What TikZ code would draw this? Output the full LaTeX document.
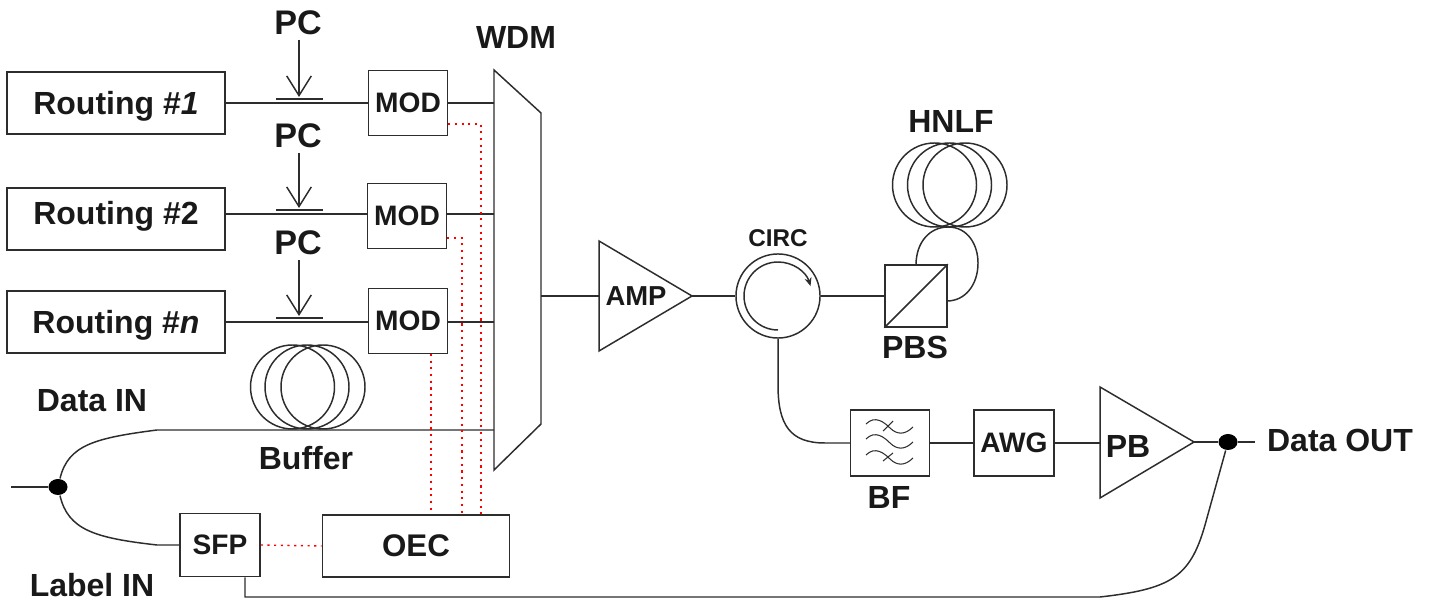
\documentclass[tikz,border=0pt]{standalone}
\usepackage{fontspec}
\setmainfont{Liberation Sans}
\usetikzlibrary{arrows.meta,shapes.geometric}
\definecolor{linegray}{RGB}{45,45,45}
\definecolor{textdark}{RGB}{25,25,25}
\tikzset{
  base/.style={draw=linegray,line width=0.42pt},
  box/.style={base,rectangle,inner sep=0pt,text=textdark,font=\fontsize{8}{9}\selectfont\bfseries},
  tag/.style={inner sep=0pt,text=textdark,font=\fontsize{9.1}{10}\selectfont\bfseries},
  tagbig/.style={inner sep=0pt,text=textdark,font=\fontsize{9.7}{11}\selectfont\bfseries},
  tagmid/.style={inner sep=0pt,text=textdark,font=\fontsize{7.8}{9}\selectfont\bfseries},
  tagsmall/.style={inner sep=0pt,text=textdark,font=\fontsize{6.9}{8}\selectfont\bfseries},
  ctrl/.style={draw=red,line width=0.4pt,dash pattern=on 0.6pt off 1.3pt},
  pcarrow/.style={base,-{Straight Barb[length=5.6pt,width=7pt,line width=0.42pt]}},
  jdot/.style={ellipse,fill=black,inner sep=0pt,minimum width=0.19cm,minimum height=0.16cm}
}

\begin{document}
\begin{tikzpicture}[x=0.01cm,y=-0.01cm]
\useasboundingbox (0,0) rectangle (1431,601);

% Routing boxes
\node[box,tag,draw=linegray,minimum width=2.18cm,minimum height=0.62cm] (rout1) at (116,103) {\raisebox{-3.4pt}[0pt][0pt]{Routing \#\textit{1}}};
\node[box,tag,draw=linegray,minimum width=2.18cm,minimum height=0.62cm] (rout2) at (116,219) {\raisebox{-1.7pt}[0pt][0pt]{Routing \#2}};
\node[box,tag,draw=linegray,minimum width=2.18cm,minimum height=0.62cm] (routn) at (116,322) {\raisebox{-3.4pt}[0pt][0pt]{Routing \#\textit{n}}};

% Modulators
\node[box,minimum width=0.79cm,minimum height=0.65cm] (mod1) at (408,103) {MOD};
\node[box,minimum width=0.79cm,minimum height=0.65cm] (mod2) at (407,216) {MOD};
\node[box,minimum width=0.79cm,minimum height=0.65cm] (mod3) at (408,321) {MOD};

% Multiplexer
\draw[base] (494,70) -- (541,113) -- (541,424) -- (494,470) -- cycle;
\node[tag] (wdm) at (516,38) {WDM};
\coordinate (wdm1) at (494,103);
\coordinate (wdm2) at (494,214);
\coordinate (wdm3) at (494,322);
\coordinate (wdmdata) at (494,430);
\coordinate (wdmout) at (541,296);

% Polarisation controllers
\node[tagbig] (pc1) at (298,23) {PC};
\node[tagbig] (pc2) at (298,136) {PC};
\node[tagbig] (pc3) at (298,243) {PC};
\coordinate (bar1) at (299,97);
\coordinate (bar2) at (299,208);
\coordinate (bar3) at (299,316);
\foreach \b in {bar1,bar2,bar3} \draw[base,line width=0.6pt] ([xshift=-0.23cm,yshift=-0.02cm]\b) -- ([xshift=0.24cm,yshift=-0.02cm]\b);
\draw[pcarrow] (bar1 |- pc1.south) ++(0,4) -- (bar1);
\draw[pcarrow] (bar2 |- pc2.south) ++(0,4) -- (bar2);
\draw[pcarrow] (bar3 |- pc3.south) ++(0,4) -- (bar3);

% Channel lines
\draw[base] (rout1.east) -- (mod1.west);
\draw[base] (rout2.east |- wdm2) -- (mod2.west |- wdm2);
\draw[base] (routn.east |- wdm3) -- (mod3.west |- wdm3);
\draw[base] (mod1.east) -- (wdm1);
\draw[base] (mod2.east |- wdm2) -- (wdm2);
\draw[base] (mod3.east |- wdm3) -- (wdm3);

% Amplifier
\draw[base] (599,241) -- (599,351) -- (692,296) -- cycle;
\node[tagmid] (amp) at (636,296) {AMP};
\coordinate (ampin) at (599,296);
\coordinate (ampout) at (692,296);
\draw[base] (wdmout) -- (ampin);

% Circulator
\node[base,circle,inner sep=0pt,minimum size=0.84cm] (circ) at (778,296) {};
\node[tagsmall] (circlabel) at (778,238) {CIRC};
\draw[base,-{Stealth[length=2.4pt,width=2pt]}] (778,330) arc[start angle=90,end angle=343,radius=34];
\draw[base] (ampout) -- (circ.west);

% Beam splitter and fibre
\node[base,rectangle,inner sep=0pt,minimum size=0.62cm] (pbs) at (916,296) {};
\draw[base] (pbs.south west) -- (pbs.north east);
\node[tag] (pbslabel) at (915,347) {PBS};
\draw[base] (circ.east) -- (pbs.west);
\foreach \cx in {934.5,949.5,965} \draw[base] (\cx,185) circle (42);
\node[tag] (hnlf) at (951,122) {HNLF};
\coordinate (loopin) at (916,265);
\coordinate (loopout) at (947,301);
\draw[base] (loopin) .. controls (916,242) and (930,227) .. (948,227) .. controls (968,227) and (978,245) .. (978,263) .. controls (978,285) and (965,301) .. (loopout);

% Output chain
\node[box,minimum width=0.79cm,minimum height=0.66cm] (bf) at (890,443) {};
\foreach \dy in {0,15,31} {
\begin{scope}[shift={(0,\dy)}]
\draw[base,line width=0.3pt] (866,424) .. controls (875,415) and (884,422) .. (890,428) .. controls (897,435) and (905,435) .. (913,427);
\end{scope}
}
\draw[base,line width=0.3pt] (883,431) -- (893,421);
\draw[base,line width=0.3pt] (883,461) -- (893,453);
\node[tag] (bflabel) at (889,497) {BF};
\node[box,minimum width=0.8cm,minimum height=0.66cm] (awg) at (1014,443) {AWG};
\draw[base] (1100,387) -- (1100,498) -- (1194,442) -- cycle;
\node[tag] (pb) at (1128,446) {PB};
\coordinate (pbin) at (1100,443);
\coordinate (pbout) at (1194,442);
\draw[base] (circ.south) -- (778,385) .. controls (778,425) and (790,443) .. (825,443) -- (bf.west);
\draw[base] (bf.east) -- (awg.west);
\draw[base] (awg.east) -- (pbin);
\node[jdot] (outdot) at (1228,442) {};
\coordinate (outend) at (1255,442);
\draw[base] (pbout) -- (outdot) -- (outend);
\node[tag] (dataout) at (1340,440) {Data OUT};

% Input split
\node[jdot] (indot) at (58,487) {};
\coordinate (instart) at (11,487);
\draw[base] (instart) -- (indot);
\node[tag] (datain) at (92,401) {Data IN};
\node[tag] (labelin) at (92,585) {Label IN};
\coordinate (upperend) at (157,430);
\coordinate (lowerend) at (157,545);
\draw[base] (indot) .. controls (68,445) and (95,438) .. (upperend) -- (wdmdata);
\foreach \cx in {292.5,307,323} \draw[base] (\cx,387) circle (42);
\node[tag] (buffer) at (306,458) {Buffer};

% Label path
\node[box,minimum width=0.8cm,minimum height=0.63cm] (sfp) at (220,545) {SFP};
\node[box,font=\fontsize{8.9}{10}\selectfont\bfseries,minimum width=1.87cm,minimum height=0.62cm] (oec) at (416,546) {OEC};
\draw[base] (indot) .. controls (68,530) and (95,538) .. (lowerend) -- (sfp.west);
\coordinate (sfpdrop) at (245,597);
\coordinate (runend) at (1100,597);
\draw[base] (sfp.south -| sfpdrop) -- (sfpdrop) -- (runend) .. controls (1170,589) and (1190,578) .. (1205,525) -- (outdot);

% Control lines
\coordinate (ctrl1) at (481,124);
\coordinate (ctrl2) at (462,238);
\coordinate (ctrl3) at (431,354);
\draw[ctrl] (mod1.east |- ctrl1) -- (ctrl1) -- (ctrl1 |- oec.north);
\draw[ctrl] (mod2.east |- ctrl2) -- (ctrl2) -- (ctrl2 |- oec.north);
\draw[ctrl] (ctrl3) -- (ctrl3 |- oec.north);
\draw[ctrl] (sfp.east) -- (oec.west);
\end{tikzpicture}
\end{document}
